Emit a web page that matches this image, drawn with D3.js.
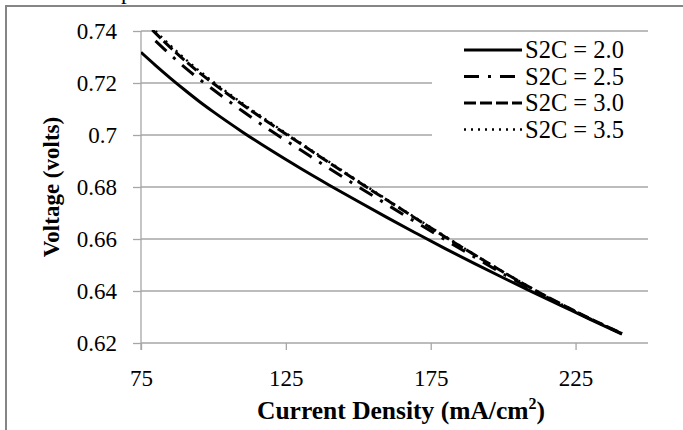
<!DOCTYPE html>
<html>
<head>
<meta charset="utf-8">
<script src="https://cdn.jsdelivr.net/npm/d3@7"></script>
<style>
  html, body { margin: 0; padding: 0; background: #fff; }
  svg { display: block; }
  text { font-family: "Liberation Serif", "Times New Roman", serif; fill: #000; }
</style>
</head>
<body>
<svg id="chart" width="683" height="430"></svg>
<script>
// Current density grid (mA/cm²) shared by all curves
const currentDensity = [75, 80, 85, 90, 95, 100, 110, 120, 130, 140, 150, 160, 170, 180, 190, 200, 210, 220, 230, 241];

// Cell voltage (V) for each stoichiometric ratio; null = no sample
const voltS2C20 = [0.7318, 0.7268, 0.7220, 0.7174, 0.7130, 0.7089, 0.7012, 0.6940, 0.6872, 0.6807, 0.6744, 0.6682, 0.6622, 0.6563, 0.6506, 0.6451, 0.6397, 0.6344, 0.6291, 0.6234];
const voltS2C25 = [null, 0.7362, 0.7310, 0.7261, 0.7216, 0.7174, 0.7092, 0.7015, 0.6943, 0.6871, 0.6801, 0.6732, 0.6664, 0.6597, 0.6531, 0.6466, 0.6406, 0.6348, 0.6293, 0.6236];
const voltS2C30 = [0.7448, 0.7392, 0.7338, 0.7288, 0.7241, 0.7198, 0.7117, 0.7041, 0.6967, 0.6893, 0.6820, 0.6749, 0.6678, 0.6608, 0.6540, 0.6473, 0.6409, 0.6350, 0.6294, 0.6237];
const voltS2C35 = [0.7458, 0.7400, 0.7346, 0.7295, 0.7248, 0.7204, 0.7122, 0.7045, 0.6970, 0.6896, 0.6823, 0.6751, 0.6680, 0.6610, 0.6541, 0.6474, 0.6410, 0.6350, 0.6294, 0.6236];

const seriesNames = ["S2C = 2.0", "S2C = 2.5", "S2C = 3.0", "S2C = 3.5"];

// Axis ticks
const xTicks = [75, 125, 175, 225];
const yTicks = [0.62, 0.64, 0.66, 0.68, 0.70, 0.72, 0.74];
const yTickLabels = ["0.62", "0.64", "0.66", "0.68", "0.7", "0.72", "0.74"];

const svg = d3.select("#chart");
const W = 683, H = 430;
const plot = { left: 141, right: 648, top: 31, bottom: 343 };

svg.append("rect").attr("width", W).attr("height", H).attr("fill", "#fff");

// caption text above the chart frame (mostly outside the page)
svg.append("text").attr("x", 121).attr("y", -1).style("font-size", "23px").text("p");

// chart frame
svg.append("rect")
  .attr("x", 6).attr("y", 6).attr("width", W + 10).attr("height", H + 10)
  .attr("fill", "none").attr("stroke", "#858585").attr("stroke-width", 2);

const x = d3.scaleLinear().domain([75, 250]).range([plot.left, plot.right]);
const y = d3.scaleLinear().domain([0.62, 0.74]).range([plot.bottom, plot.top]);

const gridColor = "#a6a6a6";

// horizontal gridlines
svg.append("g").selectAll("line").data(yTicks.slice(1)).join("line")
  .attr("x1", plot.left).attr("x2", plot.right)
  .attr("y1", d => y(d)).attr("y2", d => y(d))
  .attr("stroke", gridColor).attr("stroke-width", 1.3);

// y axis
const yAxis = d3.axisLeft(y).tickValues(yTicks).tickSize(8).tickPadding(16)
  .tickFormat((d, i) => yTickLabels[i]);
const gy = svg.append("g").attr("transform", `translate(${plot.left},0)`).call(yAxis);
gy.select(".domain").attr("stroke", gridColor).attr("stroke-width", 1.3)
  .attr("d", `M0,${plot.top}V${plot.bottom + 7}`);
gy.selectAll(".tick line").attr("stroke", gridColor).attr("stroke-width", 1.3);
gy.selectAll(".tick text").style("font-size", "23px").style("font-family", "Liberation Serif, Times New Roman, serif")
  .attr("dy", "0.33em");

// x axis
const xAxis = d3.axisBottom(x).tickValues(xTicks).tickSize(7).tickPadding(20).tickFormat(d3.format("d"));
const gx = svg.append("g").attr("transform", `translate(0,${plot.bottom})`).call(xAxis);
gx.select(".domain").attr("stroke", gridColor).attr("stroke-width", 1.3)
  .attr("d", `M${plot.left},0H${plot.right}`);
gx.selectAll(".tick line").attr("stroke", gridColor).attr("stroke-width", 1.3);
gx.selectAll(".tick text").style("font-size", "23px").style("font-family", "Liberation Serif, Times New Roman, serif");

// axis titles
svg.append("text")
  .attr("transform", `translate(59,${(plot.top + plot.bottom) / 2}) rotate(-90)`)
  .attr("text-anchor", "middle").style("font-size", "23px").style("font-weight", "bold")
  .text("Voltage (volts)");

const xt = svg.append("text")
  .attr("x", 401).attr("y", 419).attr("text-anchor", "middle")
  .style("font-size", "25.5px").style("font-weight", "bold");
xt.append("tspan").text("Current Density (mA/cm");
xt.append("tspan").attr("dy", -10).style("font-size", "16px").text("2");
xt.append("tspan").attr("dy", 10).text(")");

// legend background hides gridlines behind it
svg.append("rect").attr("x", 432).attr("y", 37).attr("width", 216).attr("height", 108).attr("fill", "#fff");

// curves
svg.append("clipPath").attr("id", "plotClip").append("rect")
  .attr("x", plot.left).attr("y", plot.top - 1)
  .attr("width", plot.right - plot.left).attr("height", plot.bottom - plot.top + 1);

const styles = [
  { values: voltS2C20, dash: null, width: 3 },
  { values: voltS2C25, dash: "15,9,3,9", width: 3 },
  { values: voltS2C30, dash: "12,4", width: 3 },
  { values: voltS2C35, dash: "2,5", width: 2.4 }
];

const line = d3.line()
  .defined(d => d[1] != null)
  .x(d => x(d[0])).y(d => y(d[1]))
  .curve(d3.curveMonotoneX);

const curves = svg.append("g").attr("clip-path", "url(#plotClip)");
styles.forEach(s => {
  curves.append("path")
    .datum(currentDensity.map((c, i) => [c, s.values[i]]))
    .attr("d", line)
    .attr("fill", "none").attr("stroke", "#000")
    .attr("stroke-width", s.width)
    .attr("stroke-dasharray", s.dash)
    .attr("stroke-linejoin", "round");
});

// legend
const legendRows = [50, 76.5, 103, 129.5];
const lg = svg.append("g");
styles.forEach((s, i) => {
  lg.append("line")
    .attr("x1", 464).attr("x2", 522).attr("y1", legendRows[i]).attr("y2", legendRows[i])
    .attr("stroke", "#000").attr("stroke-width", s.width)
    .attr("stroke-dasharray", s.dash);
  lg.append("text")
    .attr("x", 525).attr("y", legendRows[i] + 8)
    .style("font-size", "24.5px").text(seriesNames[i]);
});
</script>
</body>
</html>
